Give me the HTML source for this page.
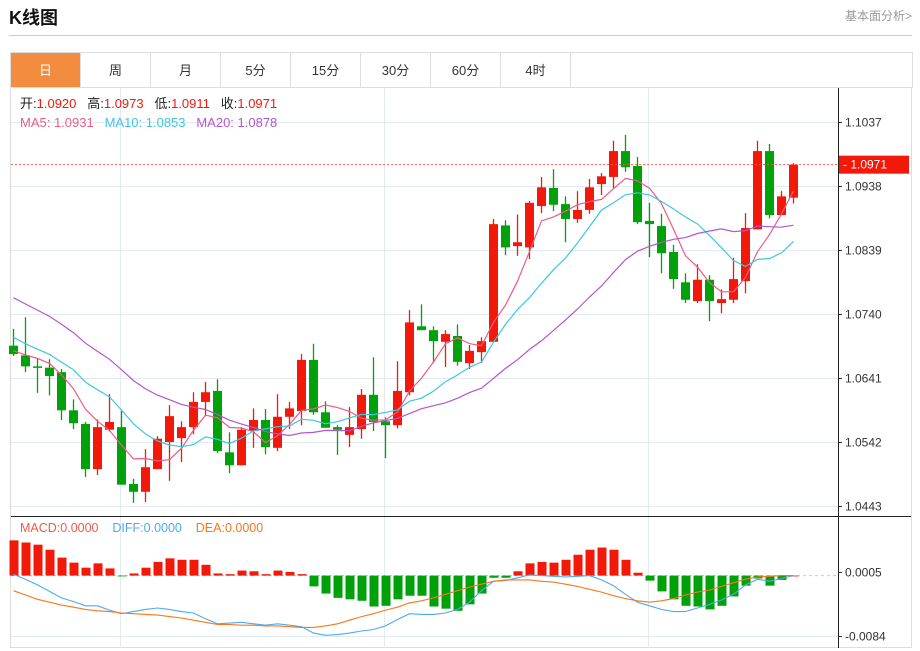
<!DOCTYPE html>
<html><head><meta charset="utf-8"><style>
body{margin:0;width:920px;height:651px;background:#fff;font-family:"Liberation Sans","Noto Sans CJK SC",sans-serif;overflow:hidden;position:relative}
.title{position:absolute;left:9px;top:4px;font-size:18px;font-weight:bold;color:#111}
.more{position:absolute;right:8px;top:7px;font-size:12px;color:#999}
.hr{position:absolute;left:9px;top:35px;width:903px;height:1px;background:#ccc}
.tabs{position:absolute;left:10px;top:52px;width:901px;height:35px;border:1px solid #ddd;border-bottom:none;display:flex}
.tab{width:69px;border-right:1px solid #ddd;text-align:center;line-height:35px;font-size:13px;color:#333}
.tab.on{background:#f28c3e;color:#fff}
svg{position:absolute;left:0;top:0}
</style></head><body>
<div class="title">K线图</div>
<div class="more">基本面分析&gt;</div>
<div class="hr"></div>
<div class="tabs">
<div class="tab on">日</div>
<div class="tab">周</div>
<div class="tab">月</div>
<div class="tab">5分</div>
<div class="tab">15分</div>
<div class="tab">30分</div>
<div class="tab">60分</div>
<div class="tab">4时</div>
</div>
<svg id="chart" width="920" height="651"></svg>
<script>
const opens=[1.0691,1.0676,1.0659,1.0657,1.0650,1.0591,1.0570,1.0500,1.0561,1.0565,1.0477,1.0465,1.0500,1.0542,1.0548,1.0565,1.0604,1.0621,1.0526,1.0506,1.0559,1.0576,1.0533,1.0581,1.0590,1.0669,1.0588,1.0565,1.0553,1.0562,1.0615,1.0574,1.0568,1.0619,1.0721,1.0715,1.0697,1.0706,1.0664,1.0681,1.0697,1.0877,1.0845,1.0843,1.0907,1.0935,1.0910,1.0887,1.0901,1.0941,1.0952,1.0992,1.0969,1.0884,1.0876,1.0836,1.0789,1.0760,1.0793,1.0757,1.0762,1.0791,1.0871,1.0992,1.0893,1.0920];
const highs=[1.0717,1.0735,1.0672,1.0670,1.0655,1.0608,1.0573,1.0577,1.0616,1.0590,1.0485,1.0531,1.0551,1.0599,1.0574,1.0619,1.0635,1.0639,1.0557,1.0565,1.0594,1.0593,1.0616,1.0604,1.0678,1.0694,1.0605,1.0568,1.0596,1.0624,1.0673,1.0580,1.0667,1.0746,1.0755,1.0721,1.0715,1.0724,1.0692,1.0704,1.0887,1.0885,1.0894,1.0915,1.0952,1.0964,1.0922,1.0930,1.0949,1.0958,1.1008,1.1017,1.0983,1.0912,1.0895,1.0847,1.0803,1.0817,1.0800,1.0778,1.0827,1.0896,1.1008,1.1003,1.0930,1.0973];
const lows=[1.0675,1.0650,1.0618,1.0614,1.0576,1.0562,1.0488,1.0491,1.0558,1.0476,1.0448,1.0449,1.0500,1.0482,1.0511,1.0554,1.0582,1.0525,1.0494,1.0506,1.0533,1.0523,1.0528,1.0562,1.0568,1.0584,1.0564,1.0522,1.0534,1.0547,1.0559,1.0517,1.0563,1.0614,1.0715,1.0664,1.0658,1.0660,1.0655,1.0664,1.0697,1.0831,1.0830,1.0825,1.0896,1.0899,1.0851,1.0881,1.0895,1.0924,1.0935,1.0960,1.0879,1.0828,1.0803,1.0779,1.0757,1.0757,1.0729,1.0741,1.0757,1.0772,1.0871,1.0888,1.0893,1.0911];
const closes=[1.0678,1.0659,1.0657,1.0644,1.0591,1.0571,1.0500,1.0565,1.0573,1.0476,1.0465,1.0503,1.0547,1.0582,1.0565,1.0604,1.0619,1.0528,1.0506,1.0561,1.0576,1.0534,1.0581,1.0594,1.0669,1.0588,1.0564,1.0561,1.0565,1.0615,1.0573,1.0568,1.0621,1.0727,1.0715,1.0698,1.0709,1.0666,1.0683,1.0698,1.0879,1.0843,1.0851,1.0912,1.0936,1.0909,1.0887,1.0901,1.0936,1.0953,1.0992,1.0967,1.0882,1.0879,1.0834,1.0794,1.0762,1.0793,1.0760,1.0763,1.0794,1.0873,1.0992,1.0893,1.0922,1.0971];
const priorCloses=[1.0850,1.0845,1.0840,1.0835,1.0830,1.0825,1.0820,1.0815,1.0800,1.0800,1.0760,1.0740,1.0725,1.0710,1.0690,1.0690,1.0685,1.0682,1.0680];
const priceTicks=[1.1037,1.0938,1.0839,1.0740,1.0641,1.0542,1.0443];
const macdHist=[0.0049,0.0046,0.0043,0.0036,0.0025,0.0018,0.0011,0.0017,0.0010,-0.0001,0.0003,0.0011,0.0019,0.0024,0.0022,0.0022,0.0015,0.0003,0.0002,0.0007,0.0006,0.0002,0.0007,0.0005,0.0002,-0.0015,-0.0025,-0.0031,-0.0033,-0.0035,-0.0043,-0.0042,-0.0033,-0.0028,-0.0028,-0.0043,-0.0046,-0.0049,-0.0040,-0.0025,-0.0003,-0.0003,0.0006,0.0017,0.0019,0.0018,0.0022,0.0029,0.0036,0.0039,0.0036,0.0022,0.0004,-0.0007,-0.0022,-0.0033,-0.0042,-0.0043,-0.0047,-0.0042,-0.0029,-0.0014,-0.0004,-0.0014,-0.0006,0.0000];
const diffVals=[0.0002,-0.0005,-0.0013,-0.0022,-0.0031,-0.0036,-0.0042,-0.0042,-0.0048,-0.0053,-0.0050,-0.0047,-0.0045,-0.0047,-0.0050,-0.0052,-0.0060,-0.0067,-0.0066,-0.0065,-0.0067,-0.0069,-0.0067,-0.0069,-0.0071,-0.0080,-0.0083,-0.0082,-0.0080,-0.0077,-0.0075,-0.0070,-0.0061,-0.0053,-0.0054,-0.0054,-0.0052,-0.0047,-0.0037,-0.0021,-0.0008,-0.0007,-0.0003,0.0001,0.0000,-0.0001,-0.0002,-0.0001,0.0000,-0.0006,-0.0014,-0.0026,-0.0037,-0.0042,-0.0047,-0.0050,-0.0050,-0.0045,-0.0040,-0.0034,-0.0026,-0.0013,-0.0005,-0.0008,-0.0004,0.0000];
const deaVals=[-0.0021,-0.0027,-0.0033,-0.0037,-0.0041,-0.0044,-0.0047,-0.0049,-0.0050,-0.0052,-0.0053,-0.0054,-0.0055,-0.0057,-0.0059,-0.0062,-0.0065,-0.0068,-0.0068,-0.0069,-0.0069,-0.0070,-0.0070,-0.0071,-0.0072,-0.0072,-0.0070,-0.0067,-0.0062,-0.0057,-0.0053,-0.0048,-0.0044,-0.0038,-0.0035,-0.0031,-0.0026,-0.0021,-0.0016,-0.0012,-0.0008,-0.0006,-0.0006,-0.0006,-0.0008,-0.0009,-0.0012,-0.0015,-0.0019,-0.0023,-0.0028,-0.0032,-0.0035,-0.0037,-0.0035,-0.0032,-0.0027,-0.0023,-0.0020,-0.0015,-0.0010,-0.0005,-0.0002,-0.0001,0.0000,0.0000];
const macdTicks=[0.0005,-0.0084];

const NS='http://www.w3.org/2000/svg';
const svg=document.getElementById('chart');
function mk(tag,attrs,parent){const e=document.createElementNS(NS,tag);for(const k in attrs)e.setAttribute(k,attrs[k]);(parent||svg).appendChild(e);return e;}
const yP=v=>122+(1.1037-v)/0.0099*64;
const yM=v=>572+(0.0005-v)/0.0089*64;
const xC=i=>13+i*12;
const RED='#f2190a',GREEN='#00a10a';

let g=mk('rect',{x:10.5,y:87.5,width:901,height:560,fill:'none',stroke:'#ddd'});


[120,384,648].forEach(x=>{const l=mk('line',{x1:x+.5,x2:x+.5,y1:88,y2:648,stroke:'#e2ebf3'});

});
priceTicks.forEach(v=>{const y=Math.round(yP(v))+.5;
const l=mk('line',{x1:11,x2:838,y1:y,y2:y,stroke:'#e2ebf3'});


mk('line',{x1:838,x2:842,y1:y,y2:y,stroke:'#333'});
const t=mk('text',{x:845,y:y+4,'font-size':12,fill:'#333'});t.textContent=v.toFixed(4);

});
const mg=mk('line',{x1:11,x2:838,y1:636.5,y2:636.5,stroke:'#e2ebf3'});


const ax=mk('line',{x1:838.5,x2:838.5,y1:88,y2:648,stroke:'#222'});


const sep=mk('line',{x1:11,x2:911,y1:516.5,y2:516.5,stroke:'#222'});


macdTicks.forEach(v=>{const y=Math.round(yM(v))+.5;mk('line',{x1:838,x2:842,y1:y,y2:y,stroke:'#333'});
const t=mk('text',{x:845,y:y+4,'font-size':12,fill:'#333'});t.textContent=v.toFixed(4);

});

opens.forEach((o,i)=>{const c=closes[i],up=c>=o,col=up?RED:GREEN,x=xC(i);
const grp=mk('g',{});


mk('line',{x1:x+.5,x2:x+.5,y1:yP(highs[i]),y2:yP(lows[i]),stroke:col,'stroke-width':1.3},grp);
const top=yP(Math.max(o,c)),bot=yP(Math.min(o,c));
mk('rect',{x:x-4,y:top,width:9,height:Math.max(1.5,bot-top),fill:col},grp);});

const all=priorCloses.concat(closes),P=priorCloses.length;
function ma(n){return closes.map((_,i)=>{let s=0;for(let k=0;k<n;k++)s+=all[P+i-k];return s/n;});}
[[5,'#ec5c86','ma5-line'],[10,'#3ec7de','ma10-line'],[20,'#b456cc','ma20-line']].forEach(([n,col,name])=>{
const pts=ma(n).map((v,i)=>xC(i)+.5+','+yP(v).toFixed(1)).join(' ');
const l=mk('polyline',{points:pts,fill:'none',stroke:col,'stroke-width':1.2});

});

const ly=yP(closes[closes.length-1]);
const lp=mk('line',{x1:11,x2:838,y1:ly,y2:ly,stroke:'#f25a4a','stroke-dasharray':'2,2'});


const lb=mk('rect',{x:839,y:ly-9,width:70,height:18,fill:'#f2190a'});


const lt=mk('text',{x:843,y:ly+4,'font-size':12,fill:'#fff'});lt.textContent='- '+closes[closes.length-1].toFixed(4);



const z=yM(0);
const zl=mk('line',{x1:11,x2:838,y1:z,y2:z,stroke:'#9fd8ee','stroke-dasharray':'3,3'});


macdHist.forEach((v,i)=>{const y=yM(v),x=xC(i);
const r=mk('rect',{x:x-3.5,y:Math.min(y,z),width:9,height:Math.max(0.8,Math.abs(y-z)),fill:v>=0?RED:GREEN});

});
[[diffVals,'#4fa9f0','diff-line'],[deaVals,'#f7781c','dea-line']].forEach(([arr,col,name])=>{
const pts=arr.map((v,i)=>xC(i)+.5+','+yM(v).toFixed(1)).join(' ');
const l=mk('polyline',{points:pts,fill:'none',stroke:col,'stroke-width':1.1});

});

function legend(y,parts,name){const t=mk('text',{x:20,y:y,'font-size':13});


parts.forEach(([s,c])=>{const sp=mk('tspan',{fill:c},t);sp.textContent=s;});}
legend(108,[['开:','#222'],['1.0920   ','#f2190a'],['高:','#222'],['1.0973   ','#f2190a'],['低:','#222'],['1.0911   ','#f2190a'],['收:','#222'],['1.0971','#f2190a']],'ohlc-legend');
legend(127,[['MA5: 1.0931   ','#ec5c86'],['MA10: 1.0853   ','#3ec7de'],['MA20: 1.0878','#b456cc']],'ma-legend');
const ml=mk('text',{x:20,y:532,'font-size':12.5});


[['MACD:0.0000    ','#f25a4a'],['DIFF:0.0000    ','#4fa9f0'],['DEA:0.0000','#f7781c']].forEach(([s,c])=>{const sp=mk('tspan',{fill:c},ml);sp.textContent=s;});
document.querySelectorAll('text').forEach(s=>s.setAttribute('style','white-space:pre'));
</script>
</body></html>
